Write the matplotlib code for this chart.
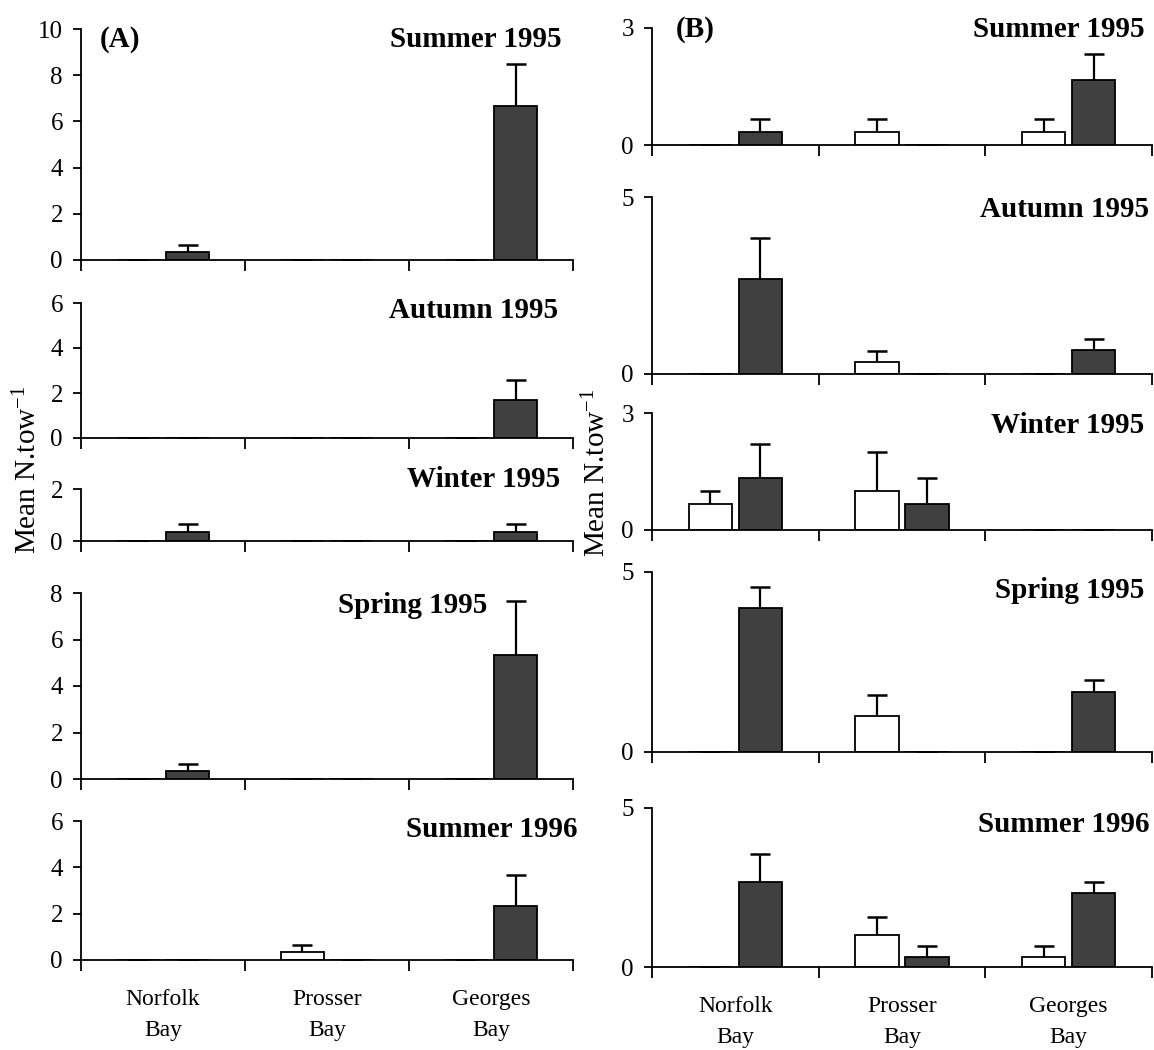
import numpy as np
import matplotlib
matplotlib.use("Agg")
import matplotlib.pyplot as plt

plt.rcParams["font.family"] = ["Liberation Serif", "DejaVu Serif"]
plt.rcParams["mathtext.fontset"] = "custom"
plt.rcParams["mathtext.rm"] = "Liberation Serif"
plt.rcParams["mathtext.default"] = "regular"

# categories
bays = ["Norfolk\nBay", "Prosser\nBay", "Georges\nBay"]
seasons = ["Summer 1995", "Autumn 1995", "Winter 1995", "Spring 1995", "Summer 1996"]

# (A) mean N.tow-1 and SE, rows = seasons, columns = bays
a_white_mean = [[0, 0, 0], [0, 0, 0], [0, 0, 0], [0, 0, 0], [0, 0.33, 0]]
a_white_se = [[0, 0, 0], [0, 0, 0], [0, 0, 0], [0, 0, 0], [0, 0.33, 0]]
a_dark_mean = [[0.33, 0, 6.67], [0, 0, 1.67], [0.33, 0, 0.33], [0.33, 0, 5.33], [0, 0, 2.33]]
a_dark_se = [[0.33, 0, 1.83], [0, 0, 0.92], [0.33, 0, 0.33], [0.33, 0, 2.33], [0, 0, 1.33]]
a_yticks = [[0, 2, 4, 6, 8, 10], [0, 2, 4, 6], [0, 2], [0, 2, 4, 6, 8], [0, 2, 4, 6]]

# (B)
b_white_mean = [[0, 0.33, 0.33], [0, 0.33, 0], [0.67, 1.0, 0], [0, 1.0, 0], [0, 1.0, 0.33]]
b_white_se = [[0, 0.33, 0.33], [0, 0.33, 0], [0.33, 1.0, 0], [0, 0.58, 0], [0, 0.58, 0.33]]
b_dark_mean = [[0.33, 0, 1.67], [2.67, 0, 0.67], [1.33, 0.67, 0], [4.0, 0, 1.67], [2.67, 0.33, 2.33]]
b_dark_se = [[0.33, 0, 0.67], [1.17, 0, 0.33], [0.88, 0.67, 0], [0.58, 0, 0.33], [0.88, 0.33, 0.33]]
b_yticks = [[0, 3], [0, 5], [0, 3], [0, 5], [0, 5]]

# layout in pixels (top, bottom) of each panel, and title anchors
W, H = 1154, 1050
a_x = (81, 573)
b_x = (652, 1152)
a_rows = [(29, 260), (303, 438), (489, 541), (593, 779), (821, 960)]
b_rows = [(28, 145), (197, 374), (413, 530), (572, 752), (808, 967)]
a_title = [(562, 47), (558, 318), (560, 487), (487, 613), (578, 837)]
b_title = [(1145, 37), (1149, 217), (1144, 433), (1144, 598), (1149, 832)]

fig = plt.figure(figsize=(W / 100, H / 100), dpi=100)


def draw_panel(x0, x1, top, bottom, wm, ws, dm, ds, yticks, last):
    ax = fig.add_axes([x0 / W, 1 - bottom / H, (x1 - x0) / W, (bottom - top) / H])
    x = np.arange(len(bays))
    ax.bar(x - 0.15, wm, 0.26, color="white", edgecolor="black", linewidth=1.3, zorder=2)
    ax.bar(x + 0.15, dm, 0.26, color="#404040", edgecolor="black", linewidth=1.3, zorder=2)
    for xs, m, s in ((x - 0.15, wm, ws), (x + 0.15, dm, ds)):
        m = np.array(m)
        s = np.array(s)
        eb = ax.errorbar(xs, m, yerr=[np.zeros(3), s], fmt="none", ecolor="black",
                         elinewidth=1.6, capsize=7, capthick=1.8, zorder=3)
        # keep only the upper caps
        for cl in eb[1]:
            if not np.allclose(cl.get_ydata(), m + s):
                cl.set_visible(False)
    ax.set_xlim(-0.5, 2.5)
    ax.set_ylim(0, yticks[-1])
    for sp in ("top", "right"):
        ax.spines[sp].set_visible(False)
    for sp in ("left", "bottom"):
        ax.spines[sp].set_linewidth(1.3)
    ax.set_yticks(yticks)
    ax.tick_params(axis="y", length=6, width=1.3, labelsize=18, pad=7)
    ax.set_xticks([-0.5, 0.5, 1.5, 2.5])
    ax.set_xticklabels([])
    ax.tick_params(axis="x", which="major", length=8, width=1.3)
    if last:
        ax.set_xticks(x, minor=True)
        ax.set_xticklabels(bays, minor=True, fontsize=17, linespacing=1.6)
        ax.tick_params(axis="x", which="minor", length=0, pad=21)
    return ax


for i in range(5):
    draw_panel(a_x[0], a_x[1], *a_rows[i], a_white_mean[i], a_white_se[i],
               a_dark_mean[i], a_dark_se[i], a_yticks[i], i == 4)
    fig.text(a_title[i][0] / W, 1 - a_title[i][1] / H, seasons[i], ha="right",
             va="baseline", fontsize=21, fontweight="bold")
    draw_panel(b_x[0], b_x[1], *b_rows[i], b_white_mean[i], b_white_se[i],
               b_dark_mean[i], b_dark_se[i], b_yticks[i], i == 4)
    fig.text(b_title[i][0] / W, 1 - b_title[i][1] / H, seasons[i], ha="right",
             va="baseline", fontsize=21, fontweight="bold")

fig.text(100 / W, 1 - 47 / H, "(A)", ha="left", va="baseline", fontsize=21, fontweight="bold")
fig.text(676 / W, 1 - 37 / H, "(B)", ha="left", va="baseline", fontsize=21, fontweight="bold")

fig.text(28 / W, 1 - 470 / H, "Mean N.tow$^{-1}$", rotation=90, ha="center", va="center", fontsize=21)
fig.text(597 / W, 1 - 473 / H, "Mean N.tow$^{-1}$", rotation=90, ha="center", va="center", fontsize=21)

fig.savefig("out.png", dpi=100)
